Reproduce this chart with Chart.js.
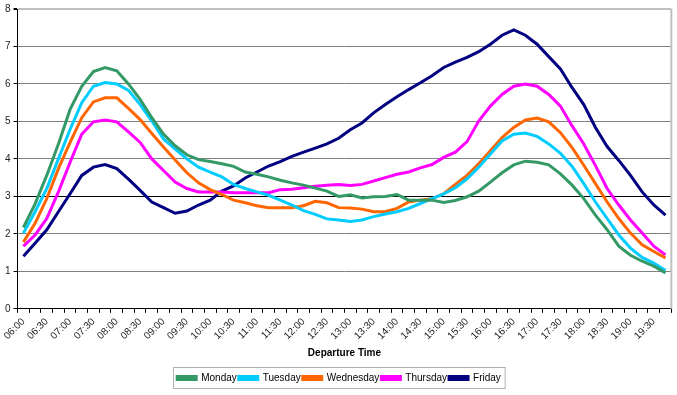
<!DOCTYPE html>
<html>
<head>
<meta charset="utf-8">
<script src="https://cdn.jsdelivr.net/npm/chart.js@4/dist/chart.umd.min.js"></script>
<style>
  html, body { margin: 0; padding: 0; background: #fff; }
  #wrap { width: 677px; height: 395px; }
</style>
</head>
<body>
<div id="wrap"><canvas id="trips"></canvas></div>
<script>
// departure times, every 15 minutes 06:00 - 19:45
var times = [];
for (var h = 6; h < 20; h++) {
  ["00", "15", "30", "45"].forEach(function (m) {
    times.push((h < 10 ? "0" + h : "" + h) + ":" + m);
  });
}

var monday = [2.17, 2.8, 3.56, 4.4, 5.32, 5.94, 6.33, 6.44, 6.35, 6.0,
  5.59, 5.1, 4.66, 4.35, 4.11, 3.98, 3.93, 3.87, 3.8, 3.65,
  3.59, 3.52, 3.43, 3.36, 3.3, 3.22, 3.14, 3.0, 3.04, 2.96,
  2.99, 3.0, 3.05, 2.9, 2.9, 2.9, 2.84, 2.89, 2.99, 3.14,
  3.38, 3.63, 3.84, 3.94, 3.91, 3.84, 3.6, 3.3, 2.94, 2.5,
  2.11, 1.67, 1.43, 1.27, 1.14, 0.96];
var tuesday = [2.02, 2.59, 3.21, 4.0, 4.79, 5.5, 5.94, 6.04, 6.0, 5.83,
  5.45, 5.01, 4.53, 4.26, 4.0, 3.78, 3.65, 3.52, 3.32, 3.21,
  3.12, 3.03, 2.9, 2.77, 2.62, 2.52, 2.4, 2.37, 2.33, 2.37,
  2.46, 2.53, 2.59, 2.68, 2.81, 2.94, 3.07, 3.23, 3.47, 3.78,
  4.13, 4.48, 4.66, 4.69, 4.6, 4.4, 4.15, 3.8, 3.34, 2.85,
  2.41, 1.97, 1.62, 1.37, 1.22, 1.02];
var wednesday = [1.78, 2.28, 2.94, 3.74, 4.44, 5.1, 5.52, 5.63, 5.63, 5.35,
  5.05, 4.68, 4.32, 3.97, 3.63, 3.36, 3.18, 3.05, 2.9, 2.83,
  2.75, 2.7, 2.7, 2.7, 2.75, 2.87, 2.83, 2.7, 2.69, 2.66,
  2.59, 2.59, 2.68, 2.85, 2.9, 2.94, 3.07, 3.32, 3.56, 3.87,
  4.22, 4.57, 4.84, 5.04, 5.09, 4.99, 4.7, 4.3, 3.83, 3.34,
  2.85, 2.41, 2.02, 1.71, 1.53, 1.36];
var thursday = [1.67, 1.97, 2.41, 3.12, 3.91, 4.66, 4.99, 5.04, 4.99, 4.72,
  4.44, 4.0, 3.69, 3.38, 3.21, 3.12, 3.12, 3.12, 3.1, 3.1,
  3.1, 3.1, 3.18, 3.19, 3.23, 3.27, 3.3, 3.32, 3.29, 3.32,
  3.41, 3.5, 3.59, 3.65, 3.76, 3.85, 4.04, 4.18, 4.46, 5.01,
  5.41, 5.72, 5.94, 6.0, 5.94, 5.72, 5.41, 4.88, 4.4, 3.82,
  3.21, 2.77, 2.37, 2.02, 1.67, 1.44];
var friday = [1.4, 1.75, 2.11, 2.59, 3.07, 3.56, 3.78, 3.85, 3.74, 3.46,
  3.16, 2.85, 2.7, 2.55, 2.61, 2.77, 2.9, 3.14, 3.28, 3.49,
  3.65, 3.81, 3.93, 4.07, 4.18, 4.29, 4.4, 4.55, 4.78, 4.96,
  5.23, 5.45, 5.66, 5.85, 6.03, 6.22, 6.44, 6.58, 6.71, 6.86,
  7.06, 7.3, 7.44, 7.3, 7.06, 6.73, 6.4, 5.9, 5.45, 4.84,
  4.33, 3.96, 3.56, 3.12, 2.77, 2.5];

var dayNames = ["Monday", "Tuesday", "Wednesday", "Thursday", "Friday"];
var dayColors = ["#339966", "#00ccff", "#ff6600", "#ff00ff", "#000080"];
var dayValues = [monday, tuesday, wednesday, thursday, friday];

Chart.defaults.font.family = "'Liberation Sans', Arial, sans-serif";
Chart.defaults.color = "#000";

// light grey frame on the right + box round the legend
var frame = {
  id: "frame",
  afterDraw: function (chart) {
    var c = chart.ctx, a = chart.chartArea;
    c.save();
    c.strokeStyle = "#c0c0c0";
    c.lineWidth = 2;
    c.beginPath();
    c.moveTo(a.right, a.top);
    c.lineTo(a.right, a.bottom);
    c.stroke();
    var boxes = chart.legend.legendHitBoxes;
    if (boxes && boxes.length) {
      var l = boxes[0].left, r = boxes[boxes.length - 1].left + boxes[boxes.length - 1].width;
      var t = boxes[0].top;
      c.strokeStyle = "#b0b0b0";
      c.lineWidth = 1;
      c.strokeRect(Math.round(l) - 3.5, Math.round(t) - 5.5, r - l + 8, 21);
    }
    c.restore();
  }
};

var chart = new Chart(document.getElementById("trips"), {
  type: "line",
  data: {
    labels: times,
    datasets: dayNames.map(function (n, i) {
      return {
        label: n,
        data: dayValues[i],
        borderColor: dayColors[i],
        backgroundColor: dayColors[i],
        borderWidth: 3,
        pointRadius: 0,
        tension: 0
      };
    })
  },
  options: {
    responsive: true,
    maintainAspectRatio: false,
    animation: false,
    layout: { padding: { left: 2, right: 1, top: -3, bottom: 2 } },
    plugins: {
      tooltip: { enabled: false },
      legend: {
        position: "bottom",
        labels: {
          boxWidth: 19,
          boxHeight: 3,
          padding: 2,
          font: { size: 10 },
          color: "#000"
        }
      }
    },
    scales: {
      x: {
        offset: true,
        grid: {
          offset: true,
          drawOnChartArea: false,
          drawTicks: true,
          tickLength: 4,
          color: "#000"
        },
        border: { color: "#000", width: 1 },
        ticks: {
          autoSkip: false,
          minRotation: 45,
          maxRotation: 45,
          padding: 3,
          font: { size: 10 },
          color: "#222",
          callback: function (v, i) { return i % 2 === 0 ? times[i] : ""; }
        },
        title: {
          display: true,
          text: "Departure Time",
          font: { size: 10, weight: "bold" },
          color: "#000",
          padding: { top: 2, bottom: 12 }
        }
      },
      y: {
        min: 0,
        max: 8,
        grid: {
          color: function (c) {
            if (c.tick.value === 3) return "#000";
            if (c.tick.value === 8) return "#c0c0c0";
            return "#808080";
          },
          lineWidth: function (c) { return c.tick.value === 8 ? 2 : 1; },
          tickLength: 4,
          tickColor: "#000"
        },
        border: { color: "#000", width: 1 },
        ticks: {
          stepSize: 1,
          padding: 3,
          font: { size: 10 },
          color: "#222"
        }
      }
    }
  },
  plugins: [frame]
});
</script>
</body>
</html>
